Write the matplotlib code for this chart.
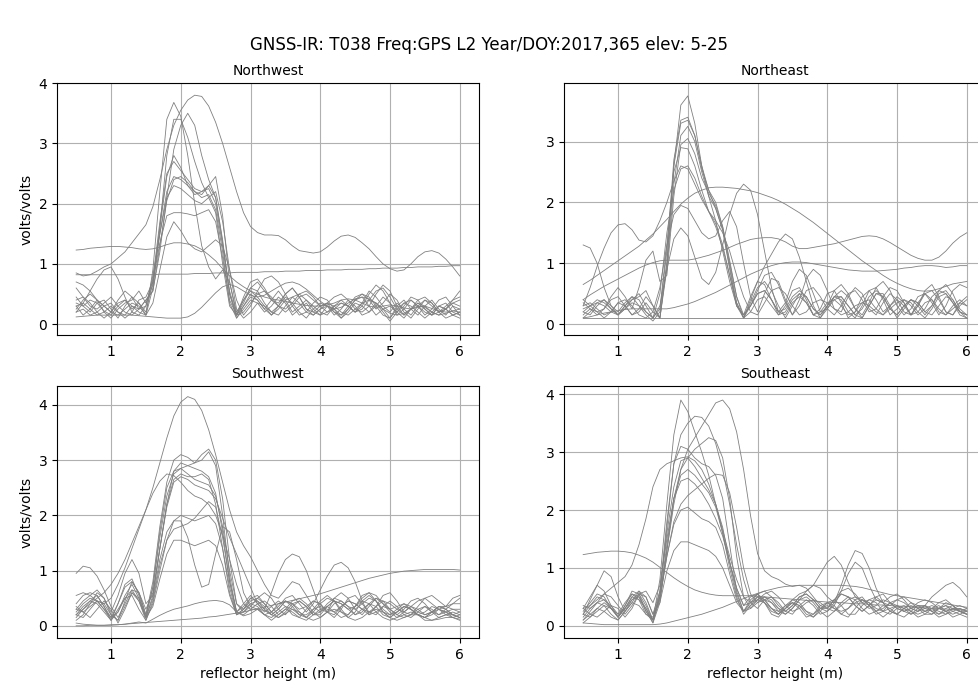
#!/usr/bin/env python3

import numpy as np
import matplotlib
matplotlib.use('Agg')
import matplotlib.pyplot as plt

#-------------------------------------------------------------------------------
# reflector height grid (m) shared by every periodogram
heights = np.round(np.arange(0.5, 6.001, 0.1), 1)

# amplitudes (volts/volts), one list per satellite track, sampled on heights
northwest = [
    [.35,.30,.40,.35,.22, .15,.30,.40,.25,.35,.20,.70,1.50,2.20,2.45, 2.40,2.30,2.20,2.10,2.15,1.90,1.20,.35,.10,.25,
     .40,.35,.20,.30,.45,.35,.15,.25,.35,.20, .15,.30,.25,.10,.25,.40,.45,.30,.15,.25, .30,.20,.10,.25,.35,.25,.15,.30,.25,.15, .20],
    [.45,.30,.20,.35,.40, .25,.10,.30,.45,.35,.15,.90,2.20,3.40,3.68, 3.45,2.80,2.00,1.30,.95,.75,.90,.70,.20,.40,
     .55,.45,.30,.15,.30,.45,.35,.20,.10,.25, .35,.30,.15,.25,.40,.30,.15,.20,.35,.25, .10,.30,.40,.25,.15,.30,.40,.25,.15,.30, .25],
    [.20,.25,.15,.20,.30, .35,.20,.15,.30,.20,.15,.60,1.60,2.80,3.40, 3.40,3.10,2.70,2.35,2.10,1.85,1.00,.30,.15,.40,
     .60,.70,.55,.40,.35,.50,.60,.45,.25,.20, .30,.35,.20,.10,.20,.35,.30,.20,.30,.45, .35,.15,.25,.40,.30,.20,.15,.30,.35,.20, .15],
    [.30,.15,.25,.40,.30, .20,.35,.40,.30,.25,.40,.55,1.20,2.10,2.90, 3.30,3.50,3.30,2.80,2.40,2.10,1.40,.50,.15,.30,
     .50,.40,.25,.40,.55,.40,.20,.30,.40,.30, .20,.15,.30,.40,.30,.20,.35,.55,.45,.30, .20,.35,.25,.15,.30,.40,.30,.20,.25,.35, .30],
    [.85,.80,.82,.88,.95, 1.00,1.10,1.20,1.35,1.50,1.65,1.95,2.40,2.90,3.30, 3.55,3.72,3.80,3.78,3.62,3.35,3.00,2.60,2.20,1.85,
     1.62,1.52,1.48,1.48,1.47,1.40,1.30,1.22,1.20,1.18, 1.20,1.28,1.38,1.46,1.48,1.44,1.35,1.25,1.12,1.00,
     .92,.88,.90,1.00,1.12,1.20,1.22,1.18,1.08,.95, .80],
    [1.23,1.24,1.26,1.27,1.28, 1.29,1.29,1.28,1.27,1.25,1.24,1.25,1.28,1.32,1.35, 1.35,1.33,1.30,1.24,1.15,1.05,.92,.80,.70,.62,
     .55,.50,.45,.42,.40,.38,.35,.33,.31,.30, .30,.32,.35,.40,.42,.40,.35,.30,.28,.30, .32,.30,.27,.25,.28,.30,.26,.22,.20,.22, .25],
    [.82,.82,.82,.82,.82, .82,.82,.82,.82,.82,.82,.82,.83,.83,.83, .83,.83,.84,.84,.84,.85,.85,.85,.86,.86,
     .86,.86,.87,.87,.87,.88,.88,.88,.89,.89, .89,.90,.90,.90,.91,.91,.91,.92,.92,.93, .93,.93,.94,.94,.95,.95,.95,.96,.96,.97, .97],
    [.12,.13,.14,.15,.15, .15,.15,.15,.15,.14,.13,.12,.11,.10,.10, .10,.12,.18,.28,.40,.52,.62,.66,.62,.55,
     .48,.45,.48,.55,.62,.68,.70,.66,.58,.48, .38,.30,.25,.28,.35,.42,.45,.42,.35,.25, .18,.15,.18,.25,.30,.28,.20,.15,.18,.22, .20],
    [.70,.65,.55,.40,.30, .20,.15,.25,.35,.30,.15,.35,.90,1.45,1.70, 1.55,1.35,1.25,1.20,1.30,1.40,1.30,.90,.40,.15,
     .30,.55,.75,.80,.70,.50,.30,.15,.20,.35, .45,.40,.25,.15,.25,.40,.50,.45,.30,.15, .10,.25,.35,.30,.20,.10,.20,.30,.25,.15, .10],
    [.40,.45,.35,.20,.10, .20,.40,.55,.45,.25,.30,.80,1.50,2.10,2.30, 2.25,2.15,2.05,2.00,2.10,2.20,1.70,.90,.25,.10,
     .20,.35,.30,.20,.15,.30,.45,.50,.40,.25, .15,.20,.30,.35,.30,.20,.25,.40,.55,.60, .45,.25,.15,.25,.35,.30,.20,.15,.25,.35, .40],
    [.25,.40,.50,.40,.20, .10,.25,.35,.40,.55,.35,.65,1.60,2.45,2.80, 2.60,2.30,2.15,2.20,2.25,2.00,1.30,.50,.10,.30,
     .45,.40,.25,.15,.25,.40,.45,.35,.20,.15, .25,.35,.30,.20,.15,.25,.35,.40,.35,.20, .05,.20,.35,.40,.30,.15,.25,.40,.45,.30, .15],
    [.30,.35,.25,.15,.20, .30,.20,.10,.20,.40,.45,.70,1.35,1.80,1.85, 1.85,1.83,1.80,1.85,1.90,1.70,1.10,.40,.15,.45,
     .70,.75,.60,.40,.30,.25,.35,.50,.55,.45, .30,.20,.25,.35,.30,.20,.30,.50,.65,.55, .35,.20,.30,.45,.40,.25,.15,.20,.30,.40, .45],
    [.60,.45,.30,.25,.35, .45,.30,.20,.15,.25,.40,.55,1.30,2.05,2.40, 2.45,2.35,2.20,2.15,2.30,2.45,1.80,.70,.15,.35,
     .60,.55,.35,.20,.30,.50,.60,.45,.25,.15, .25,.30,.20,.15,.30,.45,.50,.40,.25,.35, .50,.40,.20,.10,.25,.40,.35,.20,.10,.15, .20],
    [.20,.35,.55,.75,.90, .95,.75,.45,.20,.15,.30,.75,1.70,2.50,2.70, 2.55,2.40,2.25,2.20,2.30,2.10,1.35,.55,.15,.20,
     .35,.50,.55,.45,.30,.20,.30,.45,.50,.40, .30,.35,.45,.50,.40,.25,.20,.30,.50,.65, .55,.30,.15,.25,.40,.45,.35,.20,.25,.40, .55],
]

northeast = [
    [.30,.35,.25,.15,.20, .35,.30,.15,.20,.35,.20,.10,1.00,2.60,3.60, 3.75,3.30,2.60,2.10,1.70,1.20,.70,.30,.15,.30,
     .50,.55,.40,.20,.15,.35,.45,.35,.15,.20, .35,.40,.30,.15,.20,.35,.40,.25,.15,.30, .40,.30,.15,.20,.35,.40,.25,.15,.25,.35, .30],
    [.20,.15,.30,.40,.30, .20,.35,.45,.30,.15,.05,.20,1.20,2.70,3.35, 3.40,3.10,2.55,2.20,2.00,1.60,1.00,.45,.10,.35,
     .60,.70,.55,.30,.10,.30,.50,.45,.25,.15, .30,.45,.40,.20,.10,.30,.55,.60,.40,.15, .25,.40,.35,.20,.10,.25,.45,.50,.35,.15, .10],
    [.40,.30,.20,.25,.40, .45,.30,.15,.25,.45,.30,.10,.90,2.30,3.10, 3.25,3.00,2.50,2.10,1.90,1.55,.90,.30,.15,.45,
     .70,.65,.40,.15,.30,.55,.60,.40,.15,.25, .50,.55,.35,.10,.20,.45,.55,.40,.20,.30, .45,.35,.15,.30,.55,.65,.45,.20,.15,.35, .45],
    [.10,.20,.35,.40,.25, .15,.25,.40,.50,.30,.10,.25,1.30,2.50,2.90, 2.88,2.60,2.20,1.85,1.60,1.25,.80,.35,.10,.20,
     .40,.45,.30,.15,.20,.40,.50,.35,.15,.10, .25,.40,.45,.30,.15,.10,.30,.50,.45,.25, .15,.30,.40,.30,.15,.30,.50,.55,.40,.20, .15],
    [.65,.72,.80,.88,.96, 1.04,1.12,1.20,1.28,1.38,1.48,1.60,1.72,1.85,1.97, 2.07,2.15,2.20,2.24,2.25,2.25,2.24,2.23,2.21,2.19,
     2.16,2.12,2.08,2.03,1.97,1.90,1.83,1.75,1.67,1.58, 1.49,1.40,1.31,1.22,1.13,1.04,.96,.88,.80,.73,
     .67,.62,.58,.55,.54,.55,.58,.62,.66,.68, .70],
    [.40,.48,.55,.62,.68, .74,.80,.86,.92,.97,1.01,1.04,1.05,1.05,1.05, 1.05,1.07,1.10,1.13,1.17,1.21,1.26,1.31,1.35,1.39,
     1.41,1.42,1.42,1.40,1.35,1.28,1.24,1.24,1.26,1.28, 1.30,1.32,1.35,1.38,1.41,1.44,1.45,1.44,1.40,1.34,
     1.27,1.20,1.13,1.08,1.05,1.05,1.10,1.20,1.33,1.43, 1.50],
    [.10,.12,.15,.18,.20, .22,.24,.25,.25,.25,.25,.25,.25,.27,.30, .33,.37,.42,.47,.52,.58,.64,.70,.76,.82,
     .87,.92,.96,.99,1.01,1.02,1.02,1.01,.99,.97, .95,.93,.91,.89,.88,.87,.87,.87,.88,.89, .90,.92,.93,.95,.96,.96,.95,.93,.94,.96, .96],
    [.10,.10,.10,.10,.10, .10,.10,.10,.10,.10,.10,.10,.10,.10,.10, .10,.10,.10,.10,.10,.10,.10,.10,.10,.10,
     .10,.10,.10,.10,.10,.10,.10,.10,.10,.10, .10,.10,.10,.10,.10,.10,.10,.10,.10,.10, .10,.10,.10,.10,.10,.10,.10,.10,.10,.10, .10],
    [1.30,1.25,1.00,.60,.30, .15,.30,.45,.40,.20,.10,.50,1.50,2.20,2.55, 2.60,2.40,2.10,1.85,1.65,1.30,.80,.30,.10,.30,
     .50,.55,.40,.20,.25,.45,.55,.45,.25,.15, .30,.45,.45,.30,.15,.25,.45,.55,.45,.25, .15,.30,.40,.35,.20,.15,.30,.45,.40,.20, .10],
    [.30,.60,.95,1.25,1.50, 1.63,1.65,1.55,1.38,1.35,1.45,1.70,2.00,2.35,2.60, 2.55,2.30,2.05,1.85,1.70,1.50,1.20,.80,.45,.20,
     .15,.35,.55,.60,.50,.30,.15,.20,.35,.40, .35,.25,.15,.20,.30,.35,.30,.20,.15,.25, .35,.40,.30,.15,.25,.45,.55,.50,.35,.20, .15],
    [.20,.30,.40,.35,.25, .15,.25,.35,.30,.20,.10,.30,.90,1.40,1.58, 1.45,1.10,.75,.65,.85,1.30,1.80,2.15,2.30,2.20,
     1.80,1.20,.60,.20,.35,.70,.90,.80,.50,.20, .25,.45,.55,.45,.25,.10,.30,.50,.50,.30, .10,.25,.40,.35,.20,.30,.55,.65,.50,.25, .15],
    [.15,.25,.20,.10,.20, .35,.40,.30,.15,.10,.20,.60,1.30,1.80,1.95, 1.90,1.70,1.50,1.40,1.45,1.70,1.85,1.60,1.00,.45,
     .20,.50,.75,.70,.40,.15,.40,.75,.90,.80, .55,.25,.20,.45,.60,.50,.25,.15,.35,.50, .40,.20,.15,.35,.50,.40,.20,.15,.30,.40, .30],
    [.25,.30,.35,.30,.20, .15,.30,.40,.45,.55,.30,.10,1.00,2.60,3.30, 3.35,3.10,2.60,2.20,1.90,1.55,.95,.35,.10,.40,
     .70,.95,1.15,1.35,1.48,1.40,1.10,.70,.30,.10, .30,.55,.65,.50,.25,.15,.35,.60,.70,.55, .30,.15,.25,.45,.50,.35,.15,.30,.55,.65, .60],
    [.35,.25,.15,.25,.45, .60,.45,.25,.60,1.05,1.20,.70,.80,2.10,2.95, 3.05,2.80,2.40,2.15,1.95,1.60,1.05,.45,.15,.30,
     .55,.80,.85,.65,.35,.15,.30,.55,.60,.45, .25,.15,.30,.50,.55,.40,.20,.25,.45,.60, .55,.35,.15,.30,.50,.55,.40,.20,.15,.30, .40],
]

southwest = [
    [.55,.60,.55,.45,.40, .50,.75,1.05,1.40,1.75,2.10,2.50,2.95,3.40,3.80, 4.05,4.15,4.10,3.90,3.55,3.10,2.60,2.10,1.70,1.45,
     1.25,1.00,.75,.55,.50,.65,.80,.75,.55,.35, .25,.35,.45,.40,.30,.20,.30,.40,.35,.20, .15,.25,.35,.30,.20,.25,.35,.30,.20,.15, .20],
    [.20,.30,.40,.50,.60, .75,.95,1.20,1.50,1.80,2.10,2.40,2.62,2.75,2.72, 2.60,2.45,2.35,2.30,2.20,2.00,1.65,1.20,.75,.40,
     .30,.40,.45,.35,.20,.30,.45,.50,.40,.25, .15,.25,.40,.45,.35,.20,.25,.40,.50,.40, .25,.15,.25,.35,.30,.20,.25,.35,.30,.20, .15],
    [.95,1.08,1.05,.90,.65, .35,.15,.40,.65,.60,.30,.60,1.40,2.20,2.80, 2.95,2.90,2.85,2.80,2.70,2.40,1.70,.80,.25,.35,
     .50,.45,.30,.20,.30,.45,.40,.25,.15,.25, .40,.50,.45,.30,.15,.25,.45,.55,.45,.25, .15,.25,.35,.30,.20,.15,.25,.35,.30,.20, .25],
    [.30,.45,.55,.65,.50, .20,.10,.45,.80,.60,.20,.80,1.80,2.60,3.00, 3.10,3.05,2.95,3.00,3.15,2.90,2.00,.90,.25,.40,
     .55,.40,.25,.35,.45,.35,.20,.15,.30,.45, .40,.25,.15,.30,.50,.55,.40,.25,.20,.35, .45,.35,.20,.15,.25,.35,.30,.20,.25,.30, .25],
    [.15,.30,.45,.55,.35, .10,.25,.55,.75,.50,.15,.70,1.70,2.50,2.80, 2.85,2.90,2.95,3.10,3.20,3.00,2.30,1.20,.40,.25,
     .35,.30,.20,.25,.40,.45,.35,.20,.15,.30, .45,.55,.45,.25,.20,.35,.55,.60,.45,.25, .20,.30,.40,.35,.25,.20,.25,.30,.25,.20, .15],
    [.20,.35,.45,.40,.25, .10,.30,.50,.55,.30,.10,.40,1.00,1.55,1.90, 2.00,1.95,1.90,1.95,2.00,1.85,1.40,.70,.20,.30,
     .45,.50,.40,.25,.15,.25,.40,.45,.35,.20, .20,.35,.45,.40,.30,.35,.50,.60,.55,.40, .30,.35,.40,.30,.20,.15,.25,.35,.35,.30, .30],
    [.35,.25,.15,.30,.45, .30,.05,.30,.60,.50,.15,.35,.85,1.30,1.55, 1.55,1.50,1.45,1.50,1.55,1.45,1.10,.55,.20,.30,
     .40,.35,.20,.15,.25,.35,.30,.20,.20,.30, .35,.30,.25,.35,.45,.40,.30,.20,.25,.35, .30,.20,.15,.20,.30,.35,.25,.15,.20,.25, .20],
    [.25,.40,.50,.45,.30, .15,.25,.50,.65,.45,.15,.50,1.20,1.70,1.90, 1.90,1.60,1.10,.70,.75,1.30,1.80,1.70,1.20,.60,
     .35,.50,.60,.50,.30,.20,.35,.45,.35,.20, .25,.40,.50,.45,.35,.30,.40,.50,.45,.30, .20,.25,.35,.30,.20,.15,.20,.30,.25,.15, .10],
    [.05,.03,.02,.01,.01, .01,.02,.03,.05,.07,.05,.12,.19,.25,.30, .33,.36,.40,.43,.45,.46,.44,.38,.25,.18,
     .22,.30,.28,.20,.15,.22,.30,.25,.15,.10, .15,.25,.30,.25,.15,.10,.15,.25,.30,.25, .15,.10,.15,.20,.20,.15,.10,.12,.15,.15, .12],
    [.00,.00,.01,.01,.01, .02,.02,.03,.04,.05,.06,.07,.08,.09,.10, .11,.12,.13,.14,.16,.17,.19,.21,.23,.25,
     .28,.31,.34,.37,.40,.43,.46,.49,.52,.55, .58,.62,.66,.70,.74,.78,.82,.86,.89,.92, .95,.97,.99,1.00,1.01,1.02,1.02,1.02,1.02,1.02, 1.01],
    [.30,.25,.35,.45,.30, .10,.40,.75,.85,.55,.15,.55,1.40,2.15,2.60, 2.70,2.65,2.55,2.50,2.45,2.30,1.95,1.60,1.30,1.00,
     .70,.40,.30,.60,.95,1.20,1.30,1.25,1.00,.65, .30,.25,.50,.60,.50,.30,.20,.35,.50,.45, .30,.20,.30,.45,.50,.40,.25,.20,.30,.40, .40],
    [.40,.55,.60,.55,.35, .15,.40,.70,.80,.60,.20,.70,1.60,2.35,2.75, 2.85,2.75,2.65,2.60,2.55,2.35,1.80,1.00,.40,.30,
     .50,.55,.40,.25,.35,.50,.55,.40,.25,.40, .65,.90,1.10,1.15,1.05,.80,.45,.20,.35,.55, .60,.45,.25,.20,.35,.50,.55,.45,.35,.40, .50],
    [.10,.20,.40,.60,.50, .25,.55,.95,1.20,.95,.40,.55,1.40,2.20,2.65, 2.75,2.70,2.70,2.75,2.65,2.20,1.40,.60,.20,.25,
     .40,.45,.35,.20,.30,.45,.40,.30,.35,.45, .40,.25,.20,.35,.45,.40,.30,.25,.35,.45, .40,.30,.25,.35,.45,.50,.40,.30,.35,.50, .55],
    [.20,.15,.30,.45,.40, .20,.10,.35,.60,.45,.10,.45,1.10,1.55,1.75, 1.80,1.85,1.95,2.10,2.25,2.15,1.60,.80,.25,.20,
     .30,.30,.20,.10,.20,.30,.25,.15,.10,.20, .30,.35,.25,.15,.20,.35,.45,.40,.25,.15, .10,.15,.20,.25,.20,.10,.10,.15,.20,.20, .15],
]

southeast = [
    [.30,.50,.70,.60,.35, .15,.35,.60,.55,.25,.10,.80,2.10,3.30,3.90, 3.70,3.35,3.00,2.60,2.10,1.60,1.10,.65,.35,.50,
     .55,.40,.20,.15,.30,.40,.30,.15,.20,.35, .40,.30,.20,.30,.45,.50,.35,.20,.25,.40, .35,.25,.20,.30,.35,.25,.20,.30,.35,.25, .20],
    [.20,.35,.50,.45,.30, .20,.40,.55,.45,.20,.10,.55,1.70,2.80,3.30, 3.50,3.62,3.60,3.45,3.15,2.70,2.10,1.40,.80,.40,
     .30,.45,.50,.40,.25,.20,.35,.45,.35,.20, .25,.40,.55,.50,.35,.25,.35,.45,.40,.25, .20,.30,.35,.30,.20,.20,.30,.35,.25,.20, .15],
    [.10,.20,.30,.25,.15, .10,.25,.40,.35,.20,.15,.50,1.30,2.10,2.70, 3.05,3.25,3.45,3.65,3.85,3.90,3.75,3.35,2.70,1.90,
     1.25,.95,.85,.80,.72,.68,.70,.65,.50,.35, .30,.45,.60,.65,.55,.40,.30,.35,.45,.40, .30,.25,.30,.35,.30,.25,.30,.35,.30,.25, .20],
    [1.23,1.25,1.27,1.28,1.29, 1.29,1.28,1.26,1.22,1.17,1.10,1.01,.92,.83,.75, .68,.62,.58,.55,.53,.52,.52,.52,.52,.52,
     .51,.50,.49,.48,.47,.46,.45,.44,.43,.42, .41,.40,.40,.39,.38,.38,.37,.36,.36,.35, .34,.34,.33,.32,.31,.30,.30,.29,.28,.28, .27],
    [.35,.30,.40,.55,.65, .75,.85,1.05,1.40,1.85,2.40,2.70,2.80,2.85,2.90, 2.92,2.85,2.70,2.45,2.10,1.65,1.20,.80,.50,.40,
     .45,.55,.60,.50,.35,.25,.30,.40,.45,.40, .30,.25,.35,.45,.50,.45,.35,.25,.30,.40, .45,.40,.30,.25,.30,.35,.30,.25,.20,.25, .30],
    [.05,.04,.03,.02,.02, .02,.02,.02,.02,.02,.02,.03,.05,.08,.11, .14,.17,.20,.24,.28,.32,.37,.42,.47,.52,
     .56,.60,.63,.66,.68,.69,.70,.70,.70,.70, .70,.70,.70,.69,.68,.66,.63,.60,.57,.54, .52,.50,.48,.46,.44,.42,.40,.38,.36,.34, .32],
    [.25,.40,.55,.50,.30, .15,.30,.50,.45,.30,.10,.60,1.80,2.80,3.10, 3.05,2.90,2.80,2.75,2.60,2.20,1.40,.60,.25,.45,
     .55,.45,.30,.20,.30,.40,.35,.20,.15,.30, .40,.35,.20,.15,.30,.45,.40,.25,.15,.25, .35,.30,.20,.25,.35,.30,.20,.25,.30,.25, .20],
    [.10,.25,.40,.45,.35, .20,.30,.45,.50,.30,.05,.40,1.30,2.20,2.70, 2.90,3.05,3.15,3.25,3.20,2.90,2.20,1.20,.50,.30,
     .40,.50,.45,.30,.20,.30,.45,.50,.40,.25, .15,.25,.40,.50,.45,.30,.20,.25,.35,.30, .20,.15,.25,.35,.35,.25,.15,.20,.30,.30, .25],
    [.15,.30,.40,.35,.20, .10,.25,.45,.55,.35,.10,.50,1.20,1.75,2.00, 2.05,1.95,1.85,1.80,1.70,1.40,.90,.45,.25,.40,
     .50,.40,.25,.20,.35,.45,.40,.25,.15,.25, .40,.45,.35,.20,.20,.35,.45,.40,.25,.20, .30,.35,.25,.15,.20,.30,.35,.25,.15,.20, .25],
    [.30,.20,.15,.25,.35, .30,.15,.30,.55,.50,.20,.40,.95,1.30,1.45, 1.45,1.40,1.35,1.30,1.20,1.00,.70,.40,.25,.35,
     .45,.40,.30,.25,.35,.40,.35,.25,.20,.30, .35,.30,.25,.30,.40,.45,.40,.30,.25,.30, .35,.30,.25,.20,.25,.30,.25,.20,.25,.30, .25],
    [.20,.15,.25,.35,.30, .15,.30,.50,.60,.40,.10,.45,1.20,1.80,2.10, 2.25,2.35,2.45,2.55,2.62,2.60,2.30,1.70,1.00,.55,
     .40,.45,.40,.30,.25,.35,.50,.55,.45,.30, .30,.45,.55,.50,.35,.25,.35,.50,.55,.40, .30,.25,.30,.40,.45,.40,.30,.25,.30,.35, .30],
    [.05,.15,.30,.40,.30, .15,.35,.55,.50,.25,.05,.50,1.40,2.20,2.60, 2.70,2.60,2.45,2.30,2.05,1.60,1.00,.50,.20,.35,
     .50,.45,.30,.20,.30,.45,.55,.60,.70,.90, 1.10,1.20,1.05,.75,.50,.40,.45,.50,.40,.25, .20,.30,.40,.35,.25,.20,.30,.40,.35,.25, .20],
    [.20,.45,.70,.95,.85, .50,.25,.40,.60,.50,.20,.60,1.60,2.40,2.85, 2.90,2.75,2.55,2.35,2.10,1.70,1.10,.55,.25,.30,
     .45,.50,.40,.25,.20,.30,.45,.60,.70,.65, .50,.40,.70,1.05,1.30,1.25,1.00,.65,.40,.35, .45,.50,.40,.30,.25,.30,.40,.45,.35,.25, .25],
    [.30,.35,.45,.55,.50, .35,.20,.35,.55,.60,.40,.70,1.50,2.20,2.50, 2.55,2.45,2.30,2.10,1.85,1.55,1.10,.65,.35,.40,
     .55,.60,.50,.35,.25,.35,.50,.55,.45,.30, .25,.35,.60,.90,1.10,1.00,.70,.45,.40,.50, .55,.45,.30,.25,.35,.50,.60,.70,.75,.65, .50],
]

quadrants = ['Northwest', 'Northeast', 'Southwest', 'Southeast']
curves = [northwest, northeast, southwest, southeast]
ylims = [(-0.18, 4.0), (-0.18, 3.96), (-0.22, 4.34), (-0.21, 4.14)]
yticks = [[0, 1, 2, 3, 4], [0, 1, 2, 3], [0, 1, 2, 3, 4], [0, 1, 2, 3, 4]]

#-------------------------------------------------------------------------------

fig = plt.figure(figsize=(9.79, 6.90), dpi=100)
fig.suptitle('GNSS-IR: T038 Freq:GPS L2 Year/DOY:2017,365 elev: 5-25', fontsize=12, y=0.948)

# the right hand column runs past the edge of the saved image, as in the original
rects = [[0.0582, 0.5145, 0.431, 0.365], [0.5761, 0.5145, 0.431, 0.365],
         [0.0582, 0.0754, 0.431, 0.365], [0.5761, 0.0754, 0.431, 0.365]]

for i in range(4):
    ax = fig.add_axes(rects[i])
    for c in curves[i]:
        if len(c) != len(heights):
            print('bad length', quadrants[i], len(c))
        n = min(len(c), len(heights))
        ax.plot(heights[:n], c[:n], color='gray', linewidth=0.6)
    ax.set_xlim(0.225, 6.275)
    ax.set_ylim(ylims[i])
    ax.set_xticks([1, 2, 3, 4, 5, 6])
    ax.set_yticks(yticks[i])
    ax.set_title(quadrants[i], fontsize=10)
    ax.grid(True)
    if i in (0, 2):
        ax.set_ylabel('volts/volts')
    if i in (2, 3):
        ax.set_xlabel('reflector height (m)')

fig.savefig('out.png', dpi=100)
